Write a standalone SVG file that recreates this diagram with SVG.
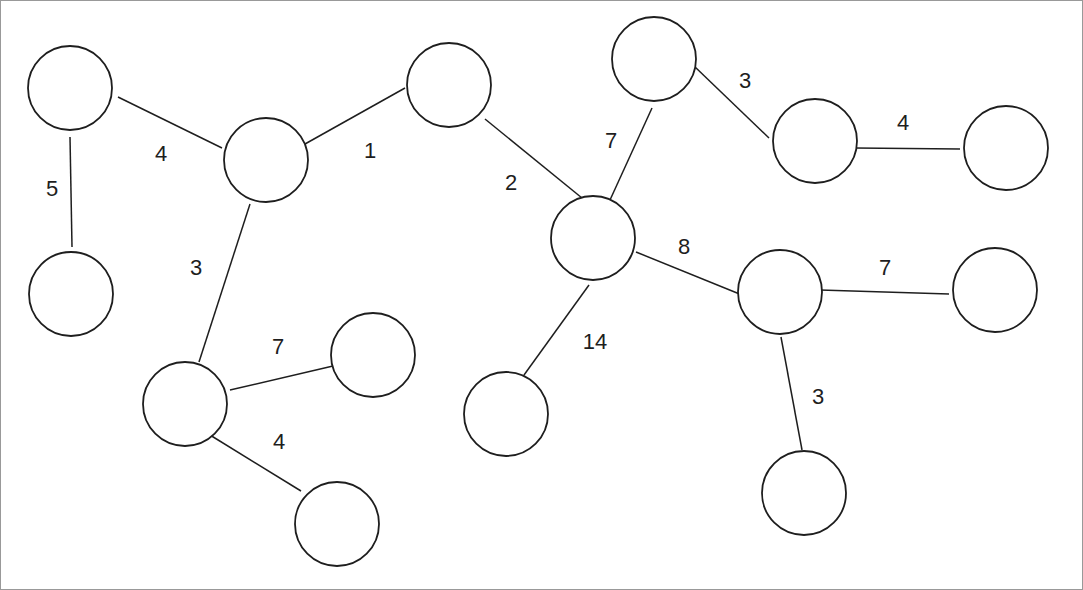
<svg xmlns="http://www.w3.org/2000/svg" width="1083" height="590" viewBox="0 0 1083 590">
<style>
.n{fill:#fff;stroke:#1e1e1e;stroke-width:1.8}
.e{stroke:#1e1e1e;stroke-width:1.5;fill:none}
text{font-family:"Liberation Sans",sans-serif;font-size:22px;fill:#1e1e1e;text-anchor:middle;dominant-baseline:central}
</style>
<rect x="0.5" y="0.5" width="1082" height="589" fill="#fff" stroke="#999"/>
<g id="connectors">
<line class="e" x1="118" y1="97" x2="222" y2="148"/>
<line class="e" x1="70" y1="137" x2="72" y2="247"/>
<line class="e" x1="305" y1="144" x2="405" y2="88"/>
<line class="e" x1="250" y1="204" x2="199" y2="362"/>
<line class="e" x1="485" y1="119" x2="582" y2="198"/>
<line class="e" x1="652" y1="108" x2="610" y2="200"/>
<line class="e" x1="694" y1="66" x2="769" y2="138"/>
<line class="e" x1="855" y1="148" x2="960" y2="149"/>
<line class="e" x1="636" y1="252" x2="742" y2="295"/>
<line class="e" x1="820" y1="290" x2="949" y2="294"/>
<line class="e" x1="781" y1="337" x2="802" y2="450"/>
<line class="e" x1="589" y1="285" x2="524" y2="375"/>
<line class="e" x1="230" y1="390" x2="333" y2="366"/>
<line class="e" x1="210" y1="435" x2="301" y2="491"/>
<text x="161" y="153">4</text>
<text x="52" y="188">5</text>
<text x="370" y="150">1</text>
<text x="196" y="267">3</text>
<text x="511" y="182">2</text>
<text x="611" y="140">7</text>
<text x="745" y="80">3</text>
<text x="903" y="122">4</text>
<text x="684" y="246">8</text>
<text x="885" y="267">7</text>
<text x="818" y="396">3</text>
<text x="595" y="341">14</text>
<text x="278" y="346">7</text>
<text x="279" y="441">4</text>
</g>
<g id="nA"><circle class="n" cx="70" cy="88" r="42"/></g>
<g id="nB"><circle class="n" cx="71" cy="294" r="42"/></g>
<g id="nC"><circle class="n" cx="266" cy="160" r="42"/></g>
<g id="nD"><circle class="n" cx="449" cy="85" r="42"/></g>
<g id="nE"><circle class="n" cx="654" cy="59" r="42"/></g>
<g id="nF"><circle class="n" cx="815" cy="141" r="42"/></g>
<g id="nG"><circle class="n" cx="1006" cy="148" r="42"/></g>
<g id="nH"><circle class="n" cx="593" cy="238" r="42"/></g>
<g id="nI"><circle class="n" cx="780" cy="292" r="42"/></g>
<g id="nJ"><circle class="n" cx="995" cy="290" r="42"/></g>
<g id="nK"><circle class="n" cx="804" cy="493" r="42"/></g>
<g id="nL"><circle class="n" cx="506" cy="414" r="42"/></g>
<g id="nM"><circle class="n" cx="373" cy="355" r="42"/></g>
<g id="nN"><circle class="n" cx="185" cy="404" r="42"/></g>
<g id="nO"><circle class="n" cx="337" cy="524" r="42"/></g>
</svg>
